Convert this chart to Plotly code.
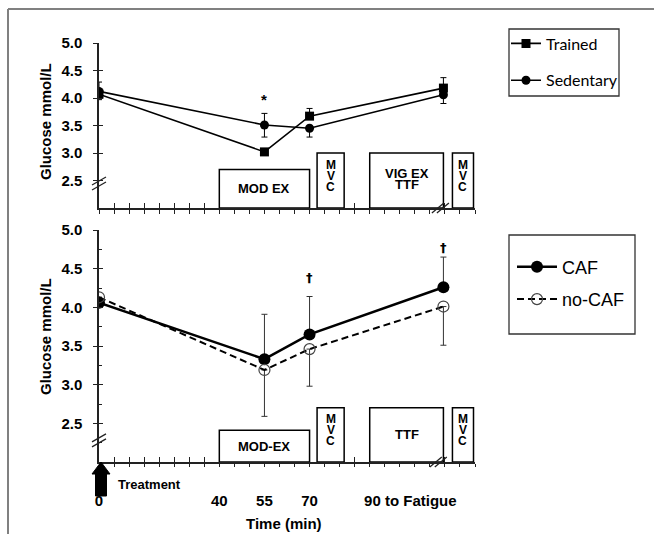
import plotly.graph_objects as go

# ---------------- data ----------------
time_points = [0, 55, 70, 114.5]

trained = [4.07, 3.02, 3.67, 4.18]
trained_err_up = [0.0, 0.03, 0.14, 0.19]
trained_err_down = [0.10, 0.03, 0.0, 0.0]
sedentary = [4.12, 3.51, 3.45, 4.06]
sedentary_err_up = [0.17, 0.21, 0.0, 0.0]
sedentary_err_down = [0.0, 0.22, 0.16, 0.16]

caf = [4.06, 3.33, 3.65, 4.26]
caf_err_up = [0.0, 0.58, 0.49, 0.39]
nocaf = [4.13, 3.19, 3.46, 4.01]
nocaf_err_down = [0.0, 0.60, 0.48, 0.50]

# exercise phases (start, end in minutes)
phase_start = [40, 72.5, 90, 117.5]
phase_end = [70, 81.5, 114.5, 124.5]
top_phase_labels = ["MOD EX", "MVC", "VIG EX|TTF", "MVC"]
top_phase_height = [2.70, 3.0, 3.0, 3.0]
bottom_phase_labels = ["MOD-EX", "MVC", "TTF", "MVC"]
bottom_phase_height = [2.41, 2.70, 2.70, 2.70]

x_tick_vals = [0, 40, 55, 70, 103.5]
x_tick_text = ["0", "40", "55", "70", "90 to Fatigue"]
y_tick_vals = [2.5, 3.0, 3.5, 4.0, 4.5, 5.0]
y_tick_text = ["2.5", "3.0", "3.5", "4.0", "4.5", "5.0"]

# --------------- layout helpers ---------------
W, H = 654, 534
def px(p):
    return p / W
def py(p):
    return 1 - p / H

FONT = "Liberation Sans"
AX = "#222222"
X0_PX, X1_PX = 99, 475
x_dom = [px(X0_PX), px(X1_PX)]
top_dom = [py(208), py(43)]
bot_dom = [py(462), py(230)]
XR = [0, 125]
YR = [2, 5]
PX_PER_MIN = (X1_PX - X0_PX) / (XR[1] - XR[0])

def x_paper(minutes):
    return px(X0_PX + minutes * PX_PER_MIN)
def y_paper(val, dom):
    return dom[0] + (val - YR[0]) / (YR[1] - YR[0]) * (dom[1] - dom[0])

fig = go.Figure()

err_style = dict(type="data", symmetric=False, thickness=1, width=3, color="black")

fig.add_trace(go.Scatter(
    x=time_points, y=trained, name="Trained", mode="lines+markers",
    line=dict(color="black", width=1.6),
    marker=dict(symbol="square", size=9, color="black"),
    error_y=dict(array=trained_err_up, arrayminus=trained_err_down, **err_style),
    xaxis="x", yaxis="y", legend="legend", legendgroup="a"))
fig.add_trace(go.Scatter(
    x=time_points, y=sedentary, name="Sedentary", mode="lines+markers",
    line=dict(color="black", width=1.6),
    marker=dict(symbol="circle", size=9, color="black"),
    error_y=dict(array=sedentary_err_up, arrayminus=sedentary_err_down, **err_style),
    xaxis="x", yaxis="y", legend="legend", legendgroup="b"))

err_style2 = dict(type="data", symmetric=False, thickness=1, width=3, color="#333333")
fig.add_trace(go.Scatter(
    x=time_points, y=caf, name="CAF", mode="lines+markers",
    line=dict(color="black", width=2.5),
    marker=dict(symbol="circle", size=12, color="black"),
    error_y=dict(array=caf_err_up, arrayminus=[0] * len(caf), **err_style2),
    xaxis="x2", yaxis="y2", legend="legend2", legendgroup="c"))
fig.add_trace(go.Scatter(
    x=time_points, y=nocaf, name="no-CAF", mode="lines+markers",
    line=dict(color="black", width=2, dash="7px,4px"),
    marker=dict(symbol="circle-open", size=11, color="#444444", line=dict(width=1.2)),
    error_y=dict(array=[0] * len(nocaf), arrayminus=nocaf_err_down, **err_style2),
    xaxis="x2", yaxis="y2", legend="legend2", legendgroup="d"))

# dummy traces so overlay axes are drawn
for xa, ya in [("x3", "y"), ("x4", "y2"), ("x5", "y2"), ("x", "y3"), ("x2", "y4")]:
    fig.add_trace(go.Scatter(x=[None], y=[None], xaxis=xa, yaxis=ya,
                             showlegend=False, hoverinfo="skip"))

tickfont = dict(family=FONT, size=15, color="black", weight="bold")
base_x = dict(range=XR, domain=x_dom, showgrid=False, zeroline=False, fixedrange=True,
              automargin=False)
base_y = dict(range=YR, showgrid=False, zeroline=False, fixedrange=True,
              automargin=False)

layout = dict(
    width=W, height=H, margin=dict(l=0, r=0, t=0, b=0, pad=0, autoexpand=False),
    paper_bgcolor="white", plot_bgcolor="rgba(0,0,0,0)",
    showlegend=True,
    xaxis=dict(**base_x, anchor="y", showline=True, linecolor=AX, linewidth=1.5,
               tickmode="linear", tick0=0, dtick=5, ticks="outside", ticklen=4,
               tickcolor=AX, tickwidth=1.2, showticklabels=False),
    xaxis3=dict(**base_x, anchor="y", overlaying="x", showline=False,
                tickmode="linear", tick0=0, dtick=5, ticks="inside", ticklen=5,
                tickcolor=AX, tickwidth=1.2, showticklabels=False),
    xaxis2=dict(**base_x, anchor="y2", showline=True, linecolor=AX, linewidth=1.5,
                tickmode="linear", tick0=0, dtick=5, ticks="outside", ticklen=3,
                tickcolor=AX, tickwidth=1.2, showticklabels=False),
    xaxis4=dict(**base_x, anchor="y2", overlaying="x2", showline=False,
                tickmode="linear", tick0=0, dtick=5, ticks="inside", ticklen=5,
                tickcolor=AX, tickwidth=1.2, showticklabels=False),
    xaxis5=dict(**base_x, anchor="y2", overlaying="x2", showline=False,
                tickmode="array", tickvals=x_tick_vals, ticktext=x_tick_text,
                ticks="", tickfont=tickfont, ticklabelstandoff=28),
    yaxis=dict(**base_y, domain=top_dom, anchor="x", showline=True, linecolor=AX,
               linewidth=1.5, tickmode="array", tickvals=y_tick_vals, ticktext=y_tick_text,
               ticks="outside", ticklen=4, tickcolor=AX, tickwidth=1.2,
               tickfont=tickfont, ticklabelstandoff=8),
    yaxis3=dict(**base_y, anchor="x", overlaying="y", showline=False,
                tickmode="array", tickvals=y_tick_vals, ticks="inside", ticklen=4,
                tickcolor=AX, tickwidth=1.2, showticklabels=False),
    yaxis2=dict(**base_y, domain=bot_dom, anchor="x2", showline=True, linecolor=AX,
                linewidth=1.5, tickmode="array", tickvals=y_tick_vals, ticktext=y_tick_text,
                ticks="outside", ticklen=4, tickcolor=AX, tickwidth=1.2,
                tickfont=tickfont, ticklabelstandoff=8,
                minor=dict(tickmode="linear", tick0=2.25, dtick=0.5, ticks="inside",
                           ticklen=3, tickcolor=AX, tickwidth=1)),
    yaxis4=dict(**base_y, anchor="x2", overlaying="y2", showline=False,
                tickmode="array", tickvals=y_tick_vals, ticks="inside", ticklen=4,
                tickcolor=AX, tickwidth=1.2, showticklabels=False),
    legend=dict(x=px(506), y=py(26.5), xanchor="left", yanchor="top",
                bgcolor="rgba(0,0,0,0)", borderwidth=0, itemwidth=30,
                tracegroupgap=13, font=dict(family="Lato", size=16, color="black")),
    legend2=dict(x=px(512), y=py(248.5), xanchor="left", yanchor="top",
                 bgcolor="rgba(0,0,0,0)", borderwidth=0, itemwidth=40,
                 tracegroupgap=6, font=dict(family=FONT, size=18, color="black")),
)
fig.update_layout(**layout)

shapes = []
annotations = []

# outer frame (top and left edges)
shapes.append(dict(type="line", xref="paper", yref="paper", x0=px(8), x1=1.0,
                   y0=py(9), y1=py(9), line=dict(color="#808080", width=2)))
shapes.append(dict(type="line", xref="paper", yref="paper", x0=px(8), x1=px(8),
                   y0=py(9), y1=0, line=dict(color="#808080", width=2)))

# legend borders
shapes.append(dict(type="rect", xref="paper", yref="paper", x0=px(509), x1=px(619),
                   y0=py(96), y1=py(29), line=dict(color="#333333", width=1.3)))
shapes.append(dict(type="rect", xref="paper", yref="paper", x0=px(509), x1=px(635),
                   y0=py(334), y1=py(235), line=dict(color="#333333", width=1.3)))

box_font = dict(family=FONT, size=13, color="black", weight="bold")

def ann(**kw):
    kw.setdefault("showarrow", False)
    kw.setdefault("xanchor", "center")
    kw.setdefault("yanchor", "middle")
    annotations.append(kw)

def add_phases(xref, yref, heights, labels):
    for s, e, h, lab in zip(phase_start, phase_end, heights, labels):
        shapes.append(dict(type="rect", xref=xref, yref=yref, x0=s, x1=e, y0=2.0, y1=h,
                           line=dict(color="black", width=1.5), fillcolor="white",
                           layer="above"))
        cx = (s + e) / 2
        cy = (2.0 + h) / 2
        if lab == "MVC":
            for i, ch in enumerate(lab):
                ann(xref=xref, yref=yref, x=cx, y=cy, text=ch,
                    yshift=5 + (1 - i) * 11,
                    font=dict(family=FONT, size=12, color="black", weight="bold"))
        elif "|" in lab:
            for i, p in enumerate(lab.split("|")):
                ann(xref=xref, yref=yref, x=cx, y=cy, text=p,
                    yshift=1.5 + (0.5 - i) * 11.5, font=box_font)
        else:
            ann(xref=xref, yref=yref, x=cx, y=cy, text=lab, font=box_font)

add_phases("x", "y", top_phase_height, top_phase_labels)
add_phases("x2", "y2", bottom_phase_height, bottom_phase_labels)

# axis break marks (paper-referenced so they are not clipped)
def ybreak(yv, dom):
    for off in (-2.5, 2.5):
        shapes.append(dict(type="line", xref="paper", yref="paper", xsizemode="pixel",
                           ysizemode="pixel", xanchor=x_paper(0), yanchor=y_paper(yv, dom),
                           x0=-7, x1=7, y0=-4 + off, y1=4 + off,
                           line=dict(color=AX, width=1.3)))

def xbreak(xv, dom):
    for off in (-2.5, 2.5):
        shapes.append(dict(type="line", xref="paper", yref="paper", xsizemode="pixel",
                           ysizemode="pixel", xanchor=x_paper(xv), yanchor=dom[0],
                           x0=-6 + off, x1=6 + off, y0=-5, y1=5,
                           line=dict(color=AX, width=1.3)))

ybreak(2.445, top_dom)
ybreak(2.28, bot_dom)
xbreak(113.5, top_dom)
xbreak(112.8, bot_dom)

# treatment arrow
ax0 = X0_PX + 2
arrow_path = (f"M {px(ax0)} {py(462)} L {px(ax0 + 9)} {py(474)} L {px(ax0 + 5.5)} {py(474)} "
              f"L {px(ax0 + 5.5)} {py(496)} L {px(ax0 - 5.5)} {py(496)} "
              f"L {px(ax0 - 5.5)} {py(474)} L {px(ax0 - 9)} {py(474)} Z")
shapes.append(dict(type="path", xref="paper", yref="paper", path=arrow_path,
                   fillcolor="black", line=dict(color="black", width=1)))

# significance markers
sig_font = dict(family="DejaVu Sans", size=13, color="black", weight="bold")
ann(xref="x", yref="y", x=55, y=3.97, text="*",
    font=dict(family=FONT, size=15, color="black", weight="bold"))
ann(xref="x2", yref="y2", x=70, y=4.38, text="†", font=sig_font)
ann(xref="x2", yref="y2", x=114.5, y=4.78, text="†", font=sig_font)

# titles / labels
title_font = dict(family=FONT, size=15, color="black", weight="bold")
ann(xref="paper", yref="paper", x=px(45), y=py(122), text="Glucose mmol/L",
    textangle=-90, font=title_font)
ann(xref="paper", yref="paper", x=px(45), y=py(337), text="Glucose mmol/L",
    textangle=-90, font=title_font)
ann(xref="paper", yref="paper", x=px(284), y=py(523), text="Time (min)",
    font=title_font)
ann(xref="paper", yref="paper", x=px(116), y=py(484), xanchor="left",
    text="Treatment", font=dict(family=FONT, size=13, color="black", weight="bold"))

fig.update_layout(shapes=shapes, annotations=annotations)
fig.write_html("out.html")
